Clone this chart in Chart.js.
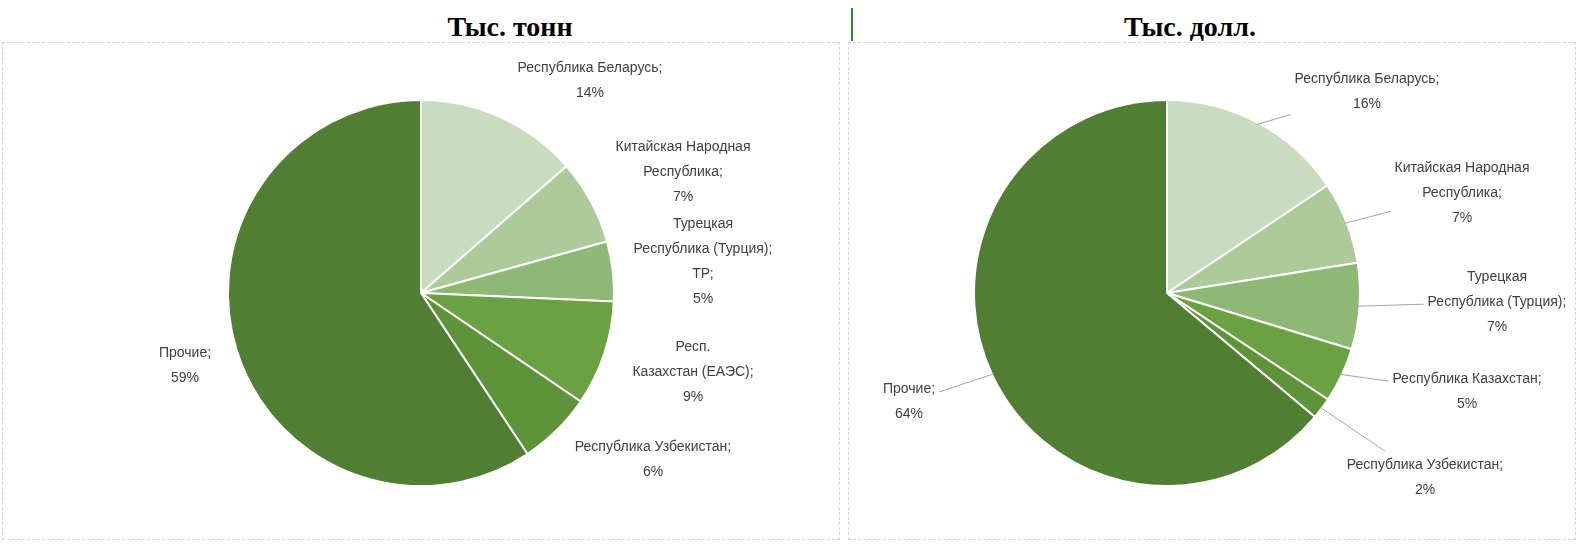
<!DOCTYPE html>
<html>
<head>
<meta charset="utf-8">
<script src="https://cdn.jsdelivr.net/npm/chart.js@4.4.1/dist/chart.umd.min.js"></script>
<style>
  body { margin: 0; background: #fff; }
  #wrap { position: relative; width: 1577px; height: 547px; overflow: hidden; }
  .title { position: absolute; top: 11px; font-family: "Liberation Serif", serif; font-weight: bold;
           font-size: 28px; transform: translateX(-50%); white-space: nowrap; color: #000; }
  .frame { position: absolute; border: 1px dashed #d4d4d4; }
  #sep { position: absolute; left: 851px; top: 8px; width: 2px; height: 33px; background: #2e8b2e; }
  canvas { position: absolute; top: 0; }
</style>
</head>
<body>
<div id="wrap">
  <div class="title" style="left:510px">Тыс. тонн</div>
  <div class="title" style="left:1190px">Тыс. долл.</div>
  <div id="sep"></div>
  <div class="frame" style="left:2px;top:42px;width:836px;height:496px"></div>
  <div class="frame" style="left:848px;top:42px;width:726px;height:496px"></div>
  <canvas id="pieTons" width="845" height="547" style="left:0"></canvas>
  <canvas id="pieUsd" width="732" height="547" style="left:845px"></canvas>
</div>
<script>
// shares, %
const tonsValues = [13.6, 7.1, 5.0, 8.8, 6.2, 59.3];
const usdValues = [15.6, 6.9, 7.2, 4.6, 1.8, 63.9];

const tonsNames = [
  ['Республика Беларусь;'],
  ['Китайская Народная', 'Республика;'],
  ['Турецкая', 'Республика (Турция);', 'ТР;'],
  ['Респ.', 'Казахстан (ЕАЭС);'],
  ['Республика Узбекистан;'],
  ['Прочие;']
];
const usdNames = [
  ['Республика Беларусь;'],
  ['Китайская Народная', 'Республика;'],
  ['Турецкая', 'Республика (Турция);'],
  ['Республика Казахстан;'],
  ['Республика Узбекистан;'],
  ['Прочие;']
];

const sliceColors = ['#c9dcbf', '#adca9a', '#8eb874', '#6aa142', '#5e9339', '#507e32'];

// label centre offsets from pie centre, px
const tonsLabelPos = [[169, -212], [262, -121], [282, -31], [272, 79], [232, 167], [-236, 73]];
const usdLabelPos = [[200, -201], [295, -100], [330, 9], [300, 99], [258, 185], [-258, 109]];

function withPct(names, values) {
  const total = values.reduce((a, b) => a + b, 0);
  return names.map((n, i) => n.concat([Math.round(values[i] / total * 100) + '%']));
}

const pieLabels = {
  id: 'pieLabels',
  afterDatasetsDraw(chart, args, opts) {
    const ctx = chart.ctx;
    const arcs = chart.getDatasetMeta(0).data;
    ctx.save();
    ctx.font = opts.font;
    ctx.textAlign = 'center';
    ctx.textBaseline = 'middle';
    arcs.forEach((arc, i) => {
      const lines = opts.lines[i];
      const cx = arc.x + opts.pos[i][0], cy = arc.y + opts.pos[i][1];
      const lh = opts.lineHeight;
      const h = lines.length * lh;
      const w = Math.max(...lines.map(l => ctx.measureText(l).width));
      if (opts.leaders) {
        const mid = (arc.startAngle + arc.endAngle) / 2;
        const x0 = arc.x + Math.cos(mid) * (arc.outerRadius - 2);
        const y0 = arc.y + Math.sin(mid) * (arc.outerRadius - 2);
        const vx = x0 - cx, vy = y0 - cy;
        const t = Math.min((w / 2 + 4) / Math.abs(vx || 1e-6), (h / 2 + 2) / Math.abs(vy || 1e-6));
        if (t < 1) {
          ctx.strokeStyle = '#a6a6a6';
          ctx.lineWidth = 1;
          ctx.beginPath();
          ctx.moveTo(x0, y0);
          ctx.lineTo(cx + vx * t, cy + vy * t);
          ctx.stroke();
        }
      }
      ctx.fillStyle = opts.color;
      lines.forEach((l, k) => ctx.fillText(l, cx, cy - h / 2 + lh * (k + 0.5)));
    });
    ctx.restore();
  }
};

function makePie(id, values, names, labelPos, leaders, padding) {
  new Chart(document.getElementById(id), {
    type: 'pie',
    data: {
      labels: names.map(n => n.join(' ')),
      datasets: [{
        data: values,
        backgroundColor: sliceColors,
        borderColor: '#ffffff',
        borderWidth: 2,
        hoverOffset: 0
      }]
    },
    options: {
      responsive: false,
      animation: false,
      layout: { padding: padding },
      plugins: {
        legend: { display: false },
        tooltip: { enabled: false },
        pieLabels: {
          lines: withPct(names, values),
          pos: labelPos,
          leaders: leaders,
          font: '14px "Liberation Sans", Arial, sans-serif',
          color: '#404040',
          lineHeight: 25
        }
      }
    },
    plugins: [pieLabels]
  });
}

makePie('pieTons', tonsValues, tonsNames, tonsLabelPos, false, { top: 99, bottom: 60, left: 227, right: 230 });
makePie('pieUsd', usdValues, usdNames, usdLabelPos, true, { top: 99, bottom: 60, left: 128, right: 216 });
</script>
</body>
</html>
